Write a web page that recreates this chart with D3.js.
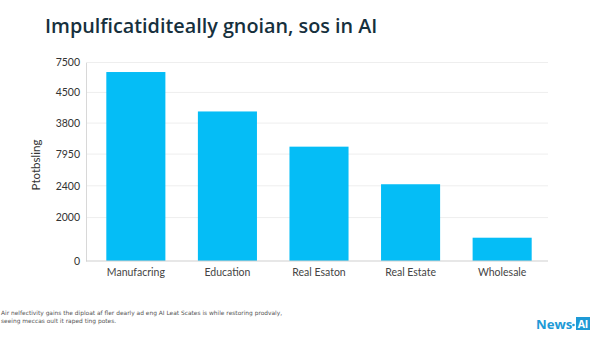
<!DOCTYPE html>
<html><head><meta charset="utf-8">
<script src="https://cdn.jsdelivr.net/npm/d3@7"></script>
<style>body{margin:0;background:#fff}svg{display:block}</style>
</head><body>
<script>
const categories = ["Manufacring", "Education", "Real Esaton", "Real Estate", "Wholesale"];
const values = [7140, 5650, 4320, 2900, 880];
const tickPositions = [0, 1640, 2840, 4040, 5210, 6370, 7500];
const tickLabels = ["0", "2000", "2400", "7950", "3800", "4500", "7500"];
const title = "Impulficatiditeally gnoian, sos in AI";
const yTitle = "Ptotbsling";
const footer = ["Air nelfectivity gains the diploat af fler dearly ad eng AI Leat Scates is while restoring prodvaly,",
                "seeing meccas oult it raped ting potes."];

const W = 600, H = 338;
const svg = d3.select("body").append("svg").attr("width", W).attr("height", H);
svg.append("rect").attr("width", W).attr("height", H).attr("fill", "#fff");

const x = d3.scaleBand().domain(categories).range([88, 550]).paddingInner(0.355).paddingOuter(0.2);
const y = d3.scaleLinear().domain([0, 7500]).range([261, 62.5]);

// gridlines
svg.append("g").selectAll("line").data(tickPositions.slice(1)).join("line")
  .attr("x1", 86).attr("x2", 548).attr("y1", d => y(d)).attr("y2", d => y(d))
  .attr("stroke", "#eeeeee").attr("stroke-width", 1);

// y axis
const yAxis = d3.axisLeft(y).tickValues(tickPositions).tickFormat((d, i) => tickLabels[i]).tickSize(0).tickPadding(6);
const gy = svg.append("g").attr("transform", "translate(86,0)").call(yAxis);
gy.select(".domain").attr("stroke", "#d8d8d8");
gy.selectAll("text").attr("font-family", "Lato, 'Open Sans', sans-serif").attr("font-size", 10.5).attr("fill", "#333");

// bars
svg.append("g").selectAll("rect").data(values).join("rect")
  .attr("x", (d, i) => x(categories[i])).attr("width", x.bandwidth())
  .attr("y", d => y(d)).attr("height", d => y(0) - y(d))
  .attr("fill", "#05bdf6");

// x axis
const xAxis = d3.axisBottom(x).tickSize(0).tickPadding(8);
const gx = svg.append("g").attr("transform", "translate(0,261)").call(xAxis);
gx.select(".domain").attr("stroke", "#cfcfcf").attr("d", "M86,0H548");
gx.selectAll("text").attr("font-family", "Lato, 'Open Sans', sans-serif").attr("font-size", 10.5).attr("fill", "#444");

// title
svg.append("text").attr("x", 45).attr("y", 33).text(title)
  .attr("font-family", "'Open Sans', Lato, sans-serif").attr("font-weight", 600).attr("font-size", 19.8)
  .attr("fill", "#16303d");

// y title
svg.append("text").attr("transform", "translate(40,165) rotate(-90)").attr("text-anchor", "middle")
  .text(yTitle).attr("font-family", "Lato, 'Open Sans', sans-serif").attr("font-size", 11.5).attr("fill", "#333");

// footer
svg.append("g").selectAll("text").data(footer).join("text")
  .attr("x", 1).attr("y", (d, i) => 315 + i * 8).text(d => d)
  .attr("font-family", "'DejaVu Sans', sans-serif").attr("font-size", 5.9).attr("fill", "#555");

// logo
const logo = svg.append("g");
logo.append("text").attr("x", 536).attr("y", 329).text("News")
  .attr("font-family", "'Open Sans', sans-serif").attr("font-weight", 700).attr("font-size", 13.2).attr("fill", "#1e9ad6");
logo.append("circle").attr("cx", 573.5).attr("cy", 325).attr("r", 1.3).attr("fill", "#1e9ad6");
logo.append("rect").attr("x", 576).attr("y", 317).attr("width", 14).attr("height", 13).attr("fill", "#1e9ad6");
logo.append("text").attr("x", 583).attr("y", 327.5).attr("text-anchor", "middle").text("AI")
  .attr("font-family", "'Open Sans', sans-serif").attr("font-weight", 700).attr("font-size", 10.5).attr("fill", "#fff");
</script>
</body></html>
